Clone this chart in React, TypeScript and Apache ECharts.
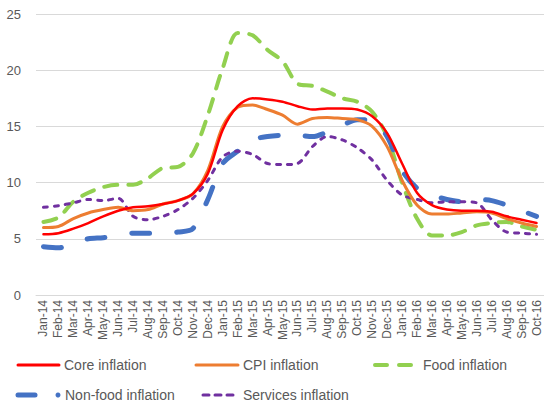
import React, { useEffect, useRef } from "react";
import * as echarts from "echarts";

const categories = [
  "Jan-14","Feb-14","Mar-14","Apr-14","May-14","Jun-14","Jul-14","Aug-14","Sep-14","Oct-14","Nov-14","Dec-14",
  "Jan-15","Feb-15","Mar-15","Apr-15","May-15","Jun-15","Jul-15","Aug-15","Sep-15","Oct-15","Nov-15","Dec-15",
  "Jan-16","Feb-16","Mar-16","Apr-16","May-16","Jun-16","Jul-16","Aug-16","Sep-16","Oct-16",
];

const coreInflation = [5.4,5.5,5.9,6.4,7.0,7.5,7.8,7.9,8.1,8.4,9.0,10.8,14.7,16.8,17.5,17.4,17.2,16.8,16.5,16.6,16.6,16.5,15.9,14.4,11.7,9.1,8.0,7.6,7.5,7.5,7.4,7.0,6.7,6.4];
const cpiInflation = [6.0,6.1,6.8,7.3,7.6,7.8,7.5,7.6,8.1,8.4,9.0,11.1,15.0,16.7,16.9,16.5,16.0,15.2,15.7,15.8,15.7,15.6,15.0,13.2,10.2,8.0,7.2,7.2,7.3,7.4,7.3,6.8,6.4,6.1];
const foodInflation = [6.5,6.9,8.3,9.1,9.6,9.8,9.8,10.4,11.3,11.4,12.6,16.0,20.2,23.3,23.1,21.8,20.8,18.8,18.6,18.1,17.5,17.2,16.3,14.1,10.0,6.8,5.3,5.3,5.6,6.2,6.4,6.5,6.1,5.8];
const nonFoodInflation = [4.3,4.2,4.6,5.0,5.1,5.3,5.5,5.5,5.5,5.6,5.9,8.5,11.7,12.8,13.8,14.1,14.2,14.2,14.1,14.5,15.1,15.6,15.6,14.1,11.1,9.5,8.9,8.5,8.3,8.5,8.4,8.0,7.5,7.0];
const servicesInflation = [7.8,7.95,8.2,8.5,8.4,8.6,7.0,6.7,7.0,7.6,8.6,10.2,12.3,12.8,12.5,11.7,11.6,11.7,13.2,14.1,13.8,13.1,12.0,10.2,8.9,8.5,8.2,8.3,8.3,8.2,6.7,5.6,5.5,5.4];

const seriesNames = ["Core inflation","CPI inflation","Food inflation","Non-food inflation","Services inflation"];
const colors = ["#FF0000","#ED7D31","#92D050","#4472C4","#7030A0"];

const FONT = "'Liberation Sans', Arial, sans-serif";
const TXT = "#595959";

export default function App() {
  const ref = useRef<HTMLDivElement>(null);
  useEffect(() => {
    if (!ref.current) return;
    const chart = echarts.init(ref.current, null, { renderer: "svg" });
    const mk = (name: string, data: number[], color: string, width: number, dash: any, z: number) => ({
      name,
      type: "line",
      data,
      smooth: 0.3,
      symbol: "none",
      z,
      lineStyle: { color, width, type: dash, cap: "round", join: "round" },
      itemStyle: { color },
    });
    const legendText = (x: number, y: number, text: string) => ({
      type: "text",
      x,
      y,
      style: { text, fill: TXT, font: `14px ${FONT}`, textVerticalAlign: "middle", textBaseline: "middle" },
    });
    const legendLine = (x1: number, x2: number, y: number, color: string, width: number, dash?: number[]) => ({
      type: "line",
      shape: { x1, y1: y, x2, y2: y },
      style: { stroke: color, lineWidth: width, lineDash: dash, lineCap: "round" },
    });
    const r1 = 365;
    const r2 = 395;
    chart.setOption({
      animation: false,
      grid: { left: 36, right: 0, top: 14, bottom: 109, containLabel: false },
      xAxis: {
        type: "category",
        data: categories,
        boundaryGap: true,
        axisLine: { show: true, lineStyle: { color: "#D9D9D9" } },
        axisTick: { show: false },
        axisLabel: { rotate: 90, interval: 0, color: TXT, fontSize: 12, fontFamily: FONT, margin: 5 },
      },
      yAxis: {
        type: "value",
        min: 0,
        max: 25,
        interval: 5,
        axisLine: { show: false },
        axisTick: { show: false },
        splitLine: { lineStyle: { color: "#D9D9D9", width: 1 } },
        axisLabel: { color: TXT, fontSize: 13, fontFamily: FONT, margin: 15 },
      },
      series: [
        mk(seriesNames[2], foodInflation, colors[2], 4, [13, 11], 2),
        mk(seriesNames[3], nonFoodInflation, colors[3], 5, [18, 27], 3),
        mk(seriesNames[4], servicesInflation, colors[4], 3, [4, 7], 4),
        mk(seriesNames[1], cpiInflation, colors[1], 3, "solid", 5),
        mk(seriesNames[0], coreInflation, colors[0], 2.5, "solid", 6),
      ],
      graphic: [
        legendLine(18, 59, r1, colors[0], 3),
        legendText(64, r1, seriesNames[0]),
        legendLine(196, 238, r1, colors[1], 3),
        legendText(243, r1, seriesNames[1]),
        legendLine(375, 411, r1, colors[2], 4, [12, 12]),
        legendText(423, r1, seriesNames[2]),
        legendLine(18, 35, r2, colors[3], 5),
        { type: "circle", shape: { cx: 58, cy: r2, r: 2.5 }, style: { fill: colors[3] } },
        legendText(65, r2, seriesNames[3]),
        legendLine(203, 235, r2, colors[4], 3, [6, 6]),
        legendText(243, r2, seriesNames[4]),
      ],
    });
    return () => chart.dispose();
  }, []);
  return <div ref={ref} style={{ position: "absolute", left: 0, top: 0, width: 544, height: 404 }} />;
}
